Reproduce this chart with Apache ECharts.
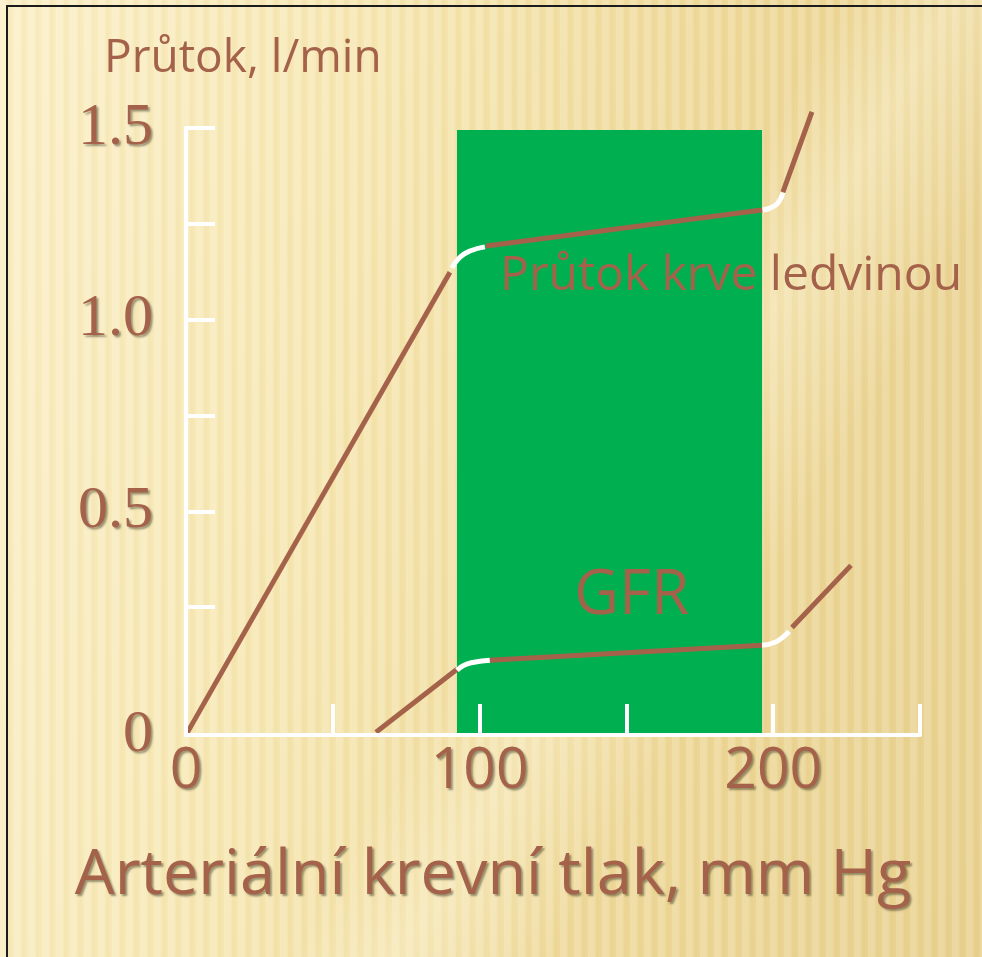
<!DOCTYPE html>
<html>
<head>
<meta charset="utf-8">
<script src="https://cdn.jsdelivr.net/npm/echarts@6/dist/echarts.min.js"></script>
<style>
html, body {
  margin: 0;
  padding: 0;
  width: 982px;
  height: 957px;
  overflow: hidden;
}
body {
  background:
    linear-gradient(120deg, rgba(255,255,255,0) 55%, rgba(255,250,225,.35) 62%, rgba(255,255,255,0) 72%),
    repeating-linear-gradient(90deg, rgba(255,255,255,.16) 0px, rgba(255,255,255,.16) 6px, rgba(200,170,90,.08) 9px, rgba(255,255,255,0) 14px),
    linear-gradient(100deg, #fbefc6 0%, #f6e6b0 35%, #eed898 65%, #e8d08e 100%);
}
.frame {
  position: absolute;
  left: 6px;
  top: 5px;
  width: 1000px;
  height: 1000px;
  border-top: 2px solid #1b1b1b;
  border-left: 2px solid #1b1b1b;
}
#main {
  position: absolute;
  left: 0;
  top: 0;
  width: 982px;
  height: 957px;
}
</style>
</head>
<body>
<div class="frame"></div>
<div id="main"></div>
<script>
// osa y: nula je posunutá dolů, takže min je -1/12
var yMin = -0.0833;
var yMax = 1.5;
var yTickValues = [0.25, 0.5, 0.75, 1.0, 1.25, 1.5];
var yLabelValues = [yMin, 0.5, 1.0, 1.5];
var yLabelText = ["0", "0.5", "1.0", "1.5"];
var xLabelValues = [0, 100, 200];

// oblast autoregulace (zelený obdélník)
var autoregRange = [92.3, 196.2];
var autoregTop = 1.495;

// průtok krve ledvinou
var rbfRise = [[0, -0.083], [89.9, 1.124]];
var rbfBend1 = [[90.6, 1.135], [93.3, 1.163], [96.7, 1.179], [101.8, 1.19]];
var rbfPlateau = [[102.2, 1.192], [196.2, 1.286]];
var rbfBend2 = [[196.5, 1.286], [198.9, 1.291], [201.6, 1.304], [203.3, 1.331]];
var rbfRise2 = [[203.3, 1.333], [213.2, 1.542]];

// GFR
var gfrRise = [[64.7, -0.076], [92.3, 0.088]];
var gfrBend1 = [[92.3, 0.0856], [94.7, 0.0986], [98.1, 0.1065], [103.5, 0.1117]];
var gfrPlateau = [[103.5, 0.1117], [196.2, 0.1508]];
var gfrBend2 = [[196.2, 0.1508], [200.6, 0.1587], [203.7, 0.1743], [205.4, 0.187]];
var gfrRise2 = [[206.4, 0.1973], [226.5, 0.3591]];

var brown = "#a5624b";
var textShadow = {
  textShadowColor: "rgba(40,40,20,0.45)",
  textShadowBlur: 2,
  textShadowOffsetX: 2,
  textShadowOffsetY: 2,
};

function seg(data, color, smooth) {
  return {
    type: "line",
    data: data,
    symbol: "none",
    smooth: smooth ? 0.5 : false,
    clip: false,
    silent: true,
    z: 3,
    lineStyle: { color: color, width: 5, cap: "butt" },
  };
}

var chart = echarts.init(document.getElementById("main"));
var option = {
  backgroundColor: "transparent",
  animation: false,
  grid: { left: 186, right: 62, top: 128, bottom: 222 },
  xAxis: {
    type: "value",
    min: 0,
    max: 250,
    interval: 50,
    z: 4,
    name: "Arteriální krevní tlak, mm Hg",
    nameLocation: "middle",
    nameGap: 110,
    nameTextStyle: Object.assign({
      color: brown,
      fontFamily: "Open Sans",
      fontSize: 63,
      padding: [0, 120, 0, 0],
    }, textShadow),
    axisLine: { onZero: false, lineStyle: { color: "#fff", width: 4 } },
    axisTick: { inside: true, length: 31, lineStyle: { color: "#fff", width: 4 } },
    axisLabel: Object.assign({
      customValues: xLabelValues,
      color: brown,
      fontFamily: "Open Sans",
      fontSize: 57,
      margin: 8,
    }, textShadow),
    splitLine: { show: false },
  },
  yAxis: {
    type: "value",
    min: yMin,
    max: yMax,
    z: 4,
    axisLine: { onZero: false, lineStyle: { color: "#fff", width: 4 } },
    axisTick: {
      inside: true,
      length: 29,
      customValues: yTickValues,
      lineStyle: { color: "#fff", width: 4 },
    },
    axisLabel: Object.assign({
      customValues: yLabelValues,
      formatter: function (v) {
        var i = yLabelValues.indexOf(v);
        return i >= 0 ? yLabelText[i] : "";
      },
      color: brown,
      fontFamily: "Liberation Serif",
      fontSize: 60,
      margin: 33,
    }, textShadow),
    splitLine: { show: false },
  },
  graphic: [
    {
      type: "text",
      left: 104,
      top: 36,
      style: { text: "Průtok, l/min", font: "46px 'Open Sans'", fill: brown },
    },
    {
      type: "text",
      left: 500,
      top: 252,
      z: 10,
      style: {
        text: "Průtok krve ledvinou",
        font: "48px 'Open Sans'",
        fill: brown,
        shadowColor: "rgba(20,40,20,0.45)",
        shadowBlur: 2,
        shadowOffsetX: 2,
        shadowOffsetY: 2,
      },
    },
    {
      type: "text",
      left: 574,
      top: 565,
      z: 10,
      style: {
        text: "GFR",
        font: "62px 'Open Sans'",
        fill: brown,
        shadowColor: "rgba(20,40,20,0.45)",
        shadowBlur: 2,
        shadowOffsetX: 2,
        shadowOffsetY: 2,
      },
    },
  ],
  series: [
    {
      type: "line",
      data: [],
      z: -1,
      silent: true,
      markArea: {
        silent: true,
        itemStyle: { color: "#00b050" },
        data: [[
          { xAxis: autoregRange[0], yAxis: yMin },
          { xAxis: autoregRange[1], yAxis: autoregTop },
        ]],
      },
    },
    seg(rbfRise, brown),
    seg(rbfBend1, "#fff", true),
    seg(rbfPlateau, brown),
    seg(rbfBend2, "#fff", true),
    seg(rbfRise2, brown),
    seg(gfrRise, brown),
    seg(gfrBend1, "#fff", true),
    seg(gfrPlateau, brown),
    seg(gfrBend2, "#fff", true),
    seg(gfrRise2, brown),
  ],
};
chart.setOption(option);
</script>
</body>
</html>
